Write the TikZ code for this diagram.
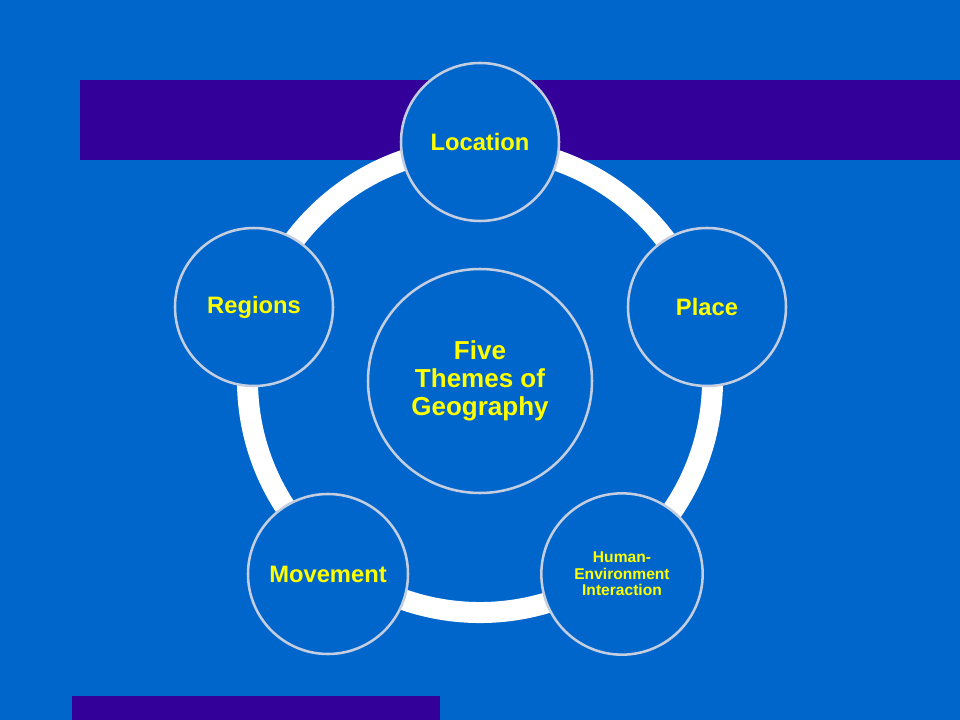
\documentclass[tikz,border=0pt]{standalone}
\usepackage{fontspec}
\setmainfont{Liberation Sans}
\definecolor{bgblue}{HTML}{0066CC}
\definecolor{barpurple}{HTML}{330099}
\definecolor{rimgray}{HTML}{C4CEE0}
\definecolor{txtyellow}{HTML}{FFFF00}
\tikzset{
  theme/.style={circle, draw=rimgray, line width=1.9pt, fill=bgblue,
    minimum size=118.5pt, inner sep=0pt, align=center, text=txtyellow,
    font=\fontsize{17.8}{20}\selectfont\bfseries},
  hub/.style={theme, minimum size=168pt, font=\fontsize{19.5}{20.8}\selectfont\bfseries},
  small/.style={theme, minimum size=121pt, font=\fontsize{11.7}{12.4}\selectfont\bfseries},
  bar/.style={fill=barpurple, draw=none}
}
\begin{document}
\begin{tikzpicture}[x=0.75pt,y=-0.75pt]
\fill[bgblue] (0,0) rectangle (960,720);
\useasboundingbox (0,0) rectangle (960,720);
\fill[bar] (80,80) rectangle (960,160);
\fill[bar] (72,696) rectangle (440,720);
\coordinate (ringc) at (480,380);
\draw[white, line width=15.75pt] (ringc) circle[radius=174.4pt];
\node[hub] (center) at (480,381) {Five\\Themes of\\Geography};
\node[theme] (location) at (480,142) {Location};
\node[theme] (place) at (707,307) {Place};
\node[small] (human) at (622,574) {Human-\\Environment\\Interaction};
\node[theme, minimum size=120pt] (movement) at (328,574) {Movement};
\node[theme] (regions) at (254,307) {Regions};
\end{tikzpicture}
\end{document}
